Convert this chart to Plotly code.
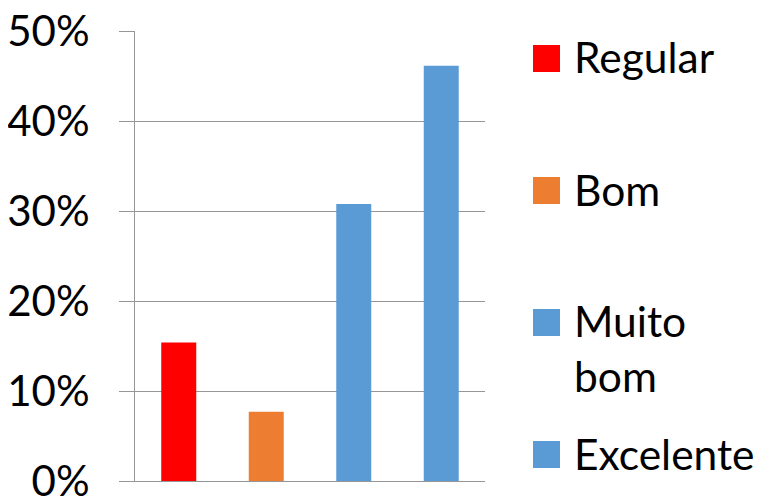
import plotly.graph_objects as go

categories = ["Regular", "Bom", "Muito bom", "Excelente"]
legend_labels = ["Regular", "Bom", "Muito<br>bom", "Excelente"]
values = [0.1538, 0.0769, 0.3077, 0.4615]
colors = ["#FF0000", "#ED7D31", "#5B9BD5", "#5B9BD5"]
y_ticks = [0, 0.1, 0.2, 0.3, 0.4, 0.5]

# page is 763x497; the default html body has an 8px margin
OFF = 8
W, H = 763 - OFF, 497 - OFF
ML, MR, MT, MB = 135 - OFF, 278, 31 - OFF, 16
PW, PH = W - ML - MR, H - MT - MB
FONT = "Lato, Calibri, Carlito, sans-serif"
GRID = "#969696"

fig = go.Figure()
for cat, val, col in zip(categories, values, colors):
    fig.add_trace(go.Bar(x=[cat], y=[val], name=cat, marker=dict(color=col, line=dict(width=0)),
                         width=0.4, showlegend=False))

# legend (squares + text, positioned like the original); page pixel -> paper
def px_x(px):
    return (px - OFF - ML) / PW

def px_y(py):
    return (OFF + H - MB - py) / PH

sq_left, sq_size, txt_left = 533, 27, 572
first_center, step = 58.5, 132
for i, (lab, col) in enumerate(zip(legend_labels, colors)):
    cy = first_center + i * step
    fig.add_shape(type="rect", xref="paper", yref="paper",
                  x0=px_x(sq_left), x1=px_x(sq_left + sq_size),
                  y0=px_y(cy + sq_size / 2), y1=px_y(cy - sq_size / 2),
                  fillcolor=col, line=dict(width=0))
    fig.add_annotation(xref="paper", yref="paper", x=px_x(txt_left), y=px_y(cy - 29),
                       xanchor="left", yanchor="top", showarrow=False, align="left",
                       text=lab, font=dict(family=FONT, size=42.5, color="#000000"))

fig.update_layout(
    width=W, height=H,
    margin=dict(l=ML, r=MR, t=MT, b=MB, autoexpand=False),
    paper_bgcolor="white", plot_bgcolor="white",
    barmode="overlay",
    font=dict(family=FONT, color="#000000"),
    xaxis=dict(showticklabels=False, ticks="", showgrid=False, showline=True,
               linecolor=GRID, linewidth=1, zeroline=False, automargin=False),
    yaxis=dict(range=[0, 0.5], tickvals=y_ticks, tickformat=".0%",
               showgrid=True, gridcolor=GRID, gridwidth=1,
               showline=True, linecolor=GRID, linewidth=1,
               ticks="outside", ticklen=15, tickcolor=GRID, tickwidth=1,
               ticklabelstandoff=21, ticklabeloverflow="allow",
               zeroline=False, automargin=False,
               tickfont=dict(family=FONT, size=42, color="#000000")),
)

fig.write_html("out.html")
